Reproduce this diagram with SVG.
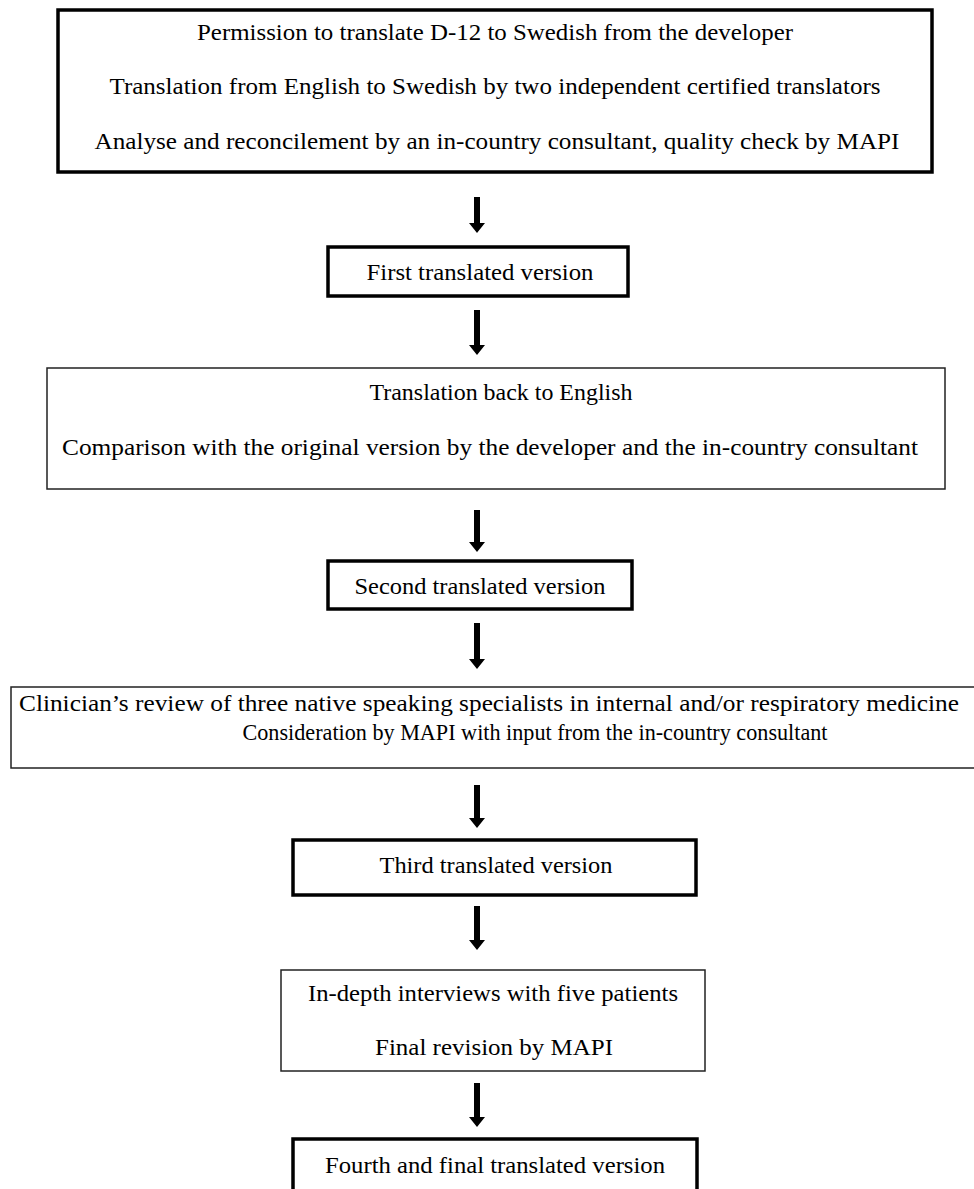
<svg xmlns="http://www.w3.org/2000/svg" width="974" height="1189" viewBox="0 0 974 1189">
<style>
.thick{fill:#fff;stroke:#000;stroke-width:3.5}
.thin{fill:#fff;stroke:#222;stroke-width:1.5}
text{font-family:"Liberation Serif","Times New Roman",Times,serif;font-size:23px;fill:#000}
.arr{fill:#000}
</style>
<rect x="0" y="0" width="974" height="1189" fill="#fff"/>
<g id="connectors">
<path class="arr" d="M474,197 H480 V223 H485 L477,233 L469,223 H474 Z"/>
<path class="arr" d="M474,310 H480 V345 H485 L477,355 L469,345 H474 Z"/>
<path class="arr" d="M474,510 H480 V542 H485 L477,552 L469,542 H474 Z"/>
<path class="arr" d="M474,623 H480 V659 H485 L477,669 L469,659 H474 Z"/>
<path class="arr" d="M474,785 H480 V818 H485 L477,828 L469,818 H474 Z"/>
<path class="arr" d="M474,906 H480 V940 H485 L477,950 L469,940 H474 Z"/>
<path class="arr" d="M474,1083 H480 V1117 H485 L477,1127 L469,1117 H474 Z"/>
</g>
<g id="node1">
<rect class="thick" x="58" y="10" width="874" height="162"/>
<text x="495" y="40" text-anchor="middle" textLength="596" lengthAdjust="spacingAndGlyphs">Permission  to translate  D-12 to Swedish  from  the developer</text>
<text x="495" y="94" text-anchor="middle" textLength="771" lengthAdjust="spacingAndGlyphs">Translation  from English  to Swedish  by two independent  certified  translators</text>
<text x="497" y="149" text-anchor="middle" textLength="805" lengthAdjust="spacingAndGlyphs">Analyse  and reconcilement  by an in-country  consultant,  quality  check by MAPI</text>
</g>
<g id="node2">
<rect class="thick" x="328" y="247" width="300" height="49"/>
<text x="480" y="280" text-anchor="middle" textLength="227" lengthAdjust="spacingAndGlyphs">First translated  version</text>
</g>
<g id="node3">
<rect class="thin" x="47" y="368" width="898" height="121"/>
<text x="501" y="400" text-anchor="middle" textLength="263" lengthAdjust="spacingAndGlyphs">Translation  back to English</text>
<text x="490" y="455" text-anchor="middle" textLength="856" lengthAdjust="spacingAndGlyphs">Comparison  with  the original  version  by the developer  and the in-country  consultant</text>
</g>
<g id="node4">
<rect class="thick" x="328" y="561" width="304" height="48"/>
<text x="480" y="594" text-anchor="middle" textLength="251" lengthAdjust="spacingAndGlyphs">Second translated  version</text>
</g>
<g id="node5">
<rect class="thin" x="11" y="687" width="980" height="81"/>
<text x="489" y="711" text-anchor="middle" textLength="940" lengthAdjust="spacingAndGlyphs">Clinician’s  review  of three  native  speaking  specialists  in internal  and/or respiratory  medicine</text>
<text x="535" y="740" text-anchor="middle" textLength="585" lengthAdjust="spacingAndGlyphs">Consideration  by MAPI with  input  from the in-country  consultant</text>
</g>
<g id="node6">
<rect class="thick" x="293" y="840" width="403" height="55"/>
<text x="496" y="873" text-anchor="middle" textLength="233" lengthAdjust="spacingAndGlyphs">Third  translated  version</text>
</g>
<g id="node7">
<rect class="thin" x="281" y="970" width="424" height="101"/>
<text x="493" y="1001" text-anchor="middle" textLength="370" lengthAdjust="spacingAndGlyphs">In-depth  interviews  with  five  patients</text>
<text x="494" y="1055" text-anchor="middle" textLength="238" lengthAdjust="spacingAndGlyphs">Final  revision  by MAPI</text>
</g>
<g id="node8">
<rect class="thick" x="293" y="1139" width="404" height="70"/>
<text x="495" y="1173" text-anchor="middle" textLength="340" lengthAdjust="spacingAndGlyphs">Fourth  and final  translated  version</text>
</g>
</svg>
